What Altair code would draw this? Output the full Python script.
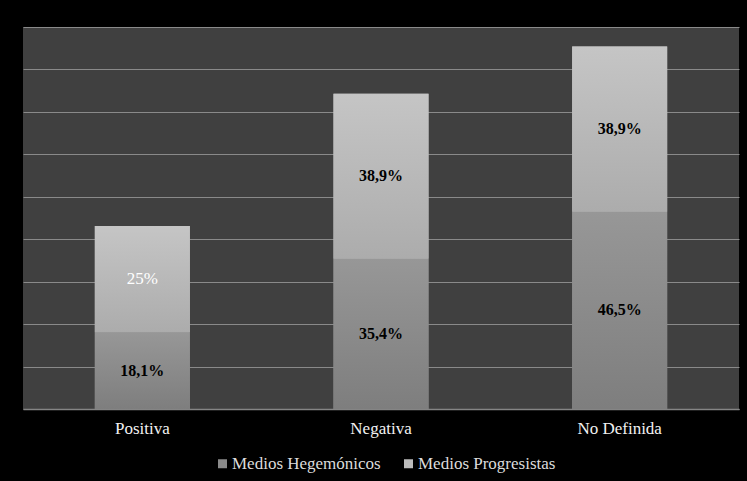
import altair as alt
import pandas as pd

categorias = ["Positiva", "Negativa", "No Definida"]
series = ["Medios Hegemónicos", "Medios Progresistas"]
hegemonicos = [18.1, 35.4, 46.5]
progresistas = [25.0, 38.9, 38.9]
etiquetas_heg = ["18,1%", "35,4%", "46,5%"]
etiquetas_prog = ["25%", "38,9%", "38,9%"]
colores = ["#8b8b8b", "#bcbcbc"]
degradados = [("#979797", "#7e7e7e"), ("#c5c5c5", "#acacac")]
ticks_y = list(range(0, 91, 10))

FUENTE = "Liberation Serif"

rows = []
for i, c in enumerate(categorias):
    rows.append({"categoria": c, "serie": series[0], "valor": hegemonicos[i],
                 "etiqueta": etiquetas_heg[i], "orden": 0})
    rows.append({"categoria": c, "serie": series[1], "valor": progresistas[i],
                 "etiqueta": etiquetas_prog[i], "orden": 1})
df = pd.DataFrame(rows)

base = alt.Chart(df).transform_stack(
    stack="valor", groupby=["categoria"], as_=["y0", "y1"],
    sort=[alt.SortField("orden", order="ascending")]
).transform_calculate(mid="(datum.y0 + datum.y1) / 2")

x_enc = alt.X(
    "categoria:N", sort=categorias,
    scale=alt.Scale(paddingInner=0, paddingOuter=0),
    axis=alt.Axis(title=None, labelAngle=0, ticks=False, tickSize=0, labelPadding=11,
                  labelFont=FUENTE, labelFontSize=17, labelColor="#f2f2f2",
                  domainColor="#858585", domainWidth=1.5, grid=False),
)
x_plain = alt.X("categoria:N", sort=categorias)
y_scale = alt.Scale(domain=[0, 90], nice=False, zero=True)

bars = base.mark_bar(size=95).encode(
    x=x_enc,
    y=alt.Y("y0:Q", scale=y_scale,
            axis=alt.Axis(title=None, labels=False, ticks=False, domain=False, grid=True,
                          values=ticks_y, gridColor="#8a8a8a", gridWidth=1)),
    y2="y1:Q",
    color=alt.Color(
        "serie:N",
        scale=alt.Scale(domain=series, range=colores),
        legend=alt.Legend(title=None, orient="none", legendX=191, legendY=428,
                          direction="horizontal", symbolType="square", symbolSize=81,
                          symbolStrokeWidth=0, labelFont=FUENTE,
                          labelFontSize=17, labelColor="#dcdcdc", columnPadding=19,
                          labelOffset=1),
    ),
)

capas = [bars]
for s, (arriba, abajo) in zip(series, degradados):
    grad = alt.LinearGradient(
        gradient="linear", x1=0, y1=0, x2=0, y2=1,
        stops=[alt.GradientStop(offset=0, color=arriba),
               alt.GradientStop(offset=1, color=abajo)],
    )
    capas.append(
        base.transform_filter(alt.datum.serie == s).mark_bar(size=95, fill=grad).encode(
            x=x_plain, y=alt.Y("y0:Q", scale=y_scale), y2="y1:Q"
        )
    )

txt_negro = base.transform_filter(alt.datum.etiqueta != "25%").mark_text(
    font=FUENTE, fontSize=16, fontWeight="bold", color="#000000"
).encode(
    x=x_plain,
    y=alt.Y("mid:Q", scale=y_scale),
    text="etiqueta:N",
)

txt_blanco = base.transform_filter(alt.datum.etiqueta == "25%").mark_text(
    font=FUENTE, fontSize=17, fontWeight="normal", color="#ffffff"
).encode(
    x=x_plain,
    y=alt.Y("mid:Q", scale=y_scale),
    text="etiqueta:N",
)

capas += [txt_negro, txt_blanco]

chart = alt.layer(*capas).properties(
    width=716, height=382,
    autosize=alt.AutoSizeParams(type="none"),
    padding={"left": 23, "top": 27, "right": 8, "bottom": 72},
    background="#000000",
).configure_view(fill="#404040", stroke=None)

chart.save("out.html", embed_options={"renderer": "svg", "actions": False})
